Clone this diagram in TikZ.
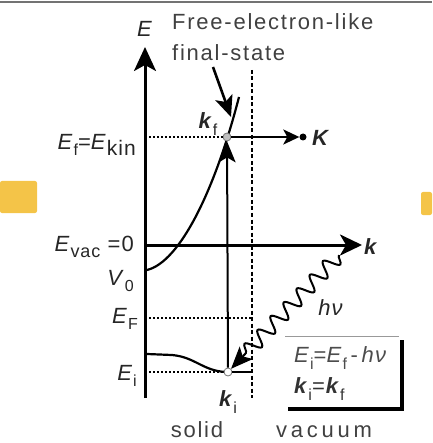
\documentclass[tikz,border=0pt]{standalone}
\usepackage{fontspec}
\setmainfont{Liberation Sans}
\newfontfamily\spaced{Liberation Sans}[LetterSpace=8]
\newfontfamily\widespaced{Liberation Sans}[LetterSpace=17]
\newfontfamily\lblfont{Liberation Sans}[LetterSpace=5]
\usetikzlibrary{arrows.meta,decorations.pathmorphing,positioning}
\newcommand\lo[2][16]{\raisebox{-0.3em}{\fontsize{#1}{#1}\selectfont\upshape\mdseries #2}}
\newcommand\bk{\textbf{\textit{k}}}

\begin{document}
\begin{tikzpicture}[x=1pt,y=-1pt,
    axis/.style={line width=3pt,-{Stealth[length=24pt,width=22pt,inset=6pt]}},
    curve/.style={line width=2.2pt},
    dotline/.style={line width=1.8pt,dash pattern=on 1.8pt off 2.2pt},
    pt/.style={circle,draw=black!55,line width=0.8pt,inner sep=0pt,minimum size=8pt},
    lbl/.style={font=\fontsize{22}{26}\selectfont\lblfont,text=black!85,inner sep=0pt},
    wordlbl/.style={font=\fontsize{22}{26}\selectfont\spaced,text=black!75,inner sep=0pt},
    blob/.style={fill={rgb,255:red,244;green,196;blue,72},rounded corners=2pt}]
  \useasboundingbox (0,0) rectangle (432,443);
  \fill[blob] (0,181) rectangle (37,213);
  \fill[blob] (421,192) rectangle (432,215);
  \draw[black!55,line width=1.5pt] (0,2) -- (432,2);

  \coordinate (O) at (145,245);
  \coordinate (Etop) at (145,47);
  \coordinate (Ebot) at (145,398);
  \coordinate (ktip) at (362,245);
  \coordinate (vtop) at (252,70);
  \coordinate (vbot) at (252,398);
  \coordinate (V0) at (147,270);
  \coordinate (ptop) at (239,97);
  \coordinate (band0) at (147,354);
  \coordinate (Efl) at (149,137);
  \coordinate (EFl) at (149,318);
  \coordinate (EFr) at (252,318);
  \coordinate (Eil) at (149,372);
  \coordinate (Eir) at (252,372);
  \coordinate (fe) at (213,67);
  \coordinate (fetip) at (231,117);
  \coordinate (ph) at (339,255);

  \draw[axis] (Ebot) -- (Etop);
  \draw[line width=3pt,-{Stealth[length=22pt,width=21pt,inset=6pt]}] (O) -- (ktip);
  \draw[line width=1.8pt,dash pattern=on 4pt off 2.5pt] (vtop) -- (vbot);
  \draw[curve] (V0) .. controls (180,262) and (215,190) .. (ptop);
  \draw[curve] (band0) -- (172,355) .. controls (195,357) and (203,371) .. (226,372);

  \node[pt,fill=black!25] (kf) at (227,137) {};
  \node[pt,fill=white] (ki) at (228,372) {};
  \node[circle,fill=black,inner sep=0pt,minimum size=7pt] (Kdot) at (303,137) {};

  \draw[dotline] (Efl) -- (kf);
  \draw[dotline] (EFl) -- (EFr);
  \draw[dotline] (Eil) -- (ki);
  \draw[line width=1.5pt] (ki) -- (Eir);
  \draw[line width=2pt,-{Stealth[length=21pt,width=17pt,inset=5pt]}] (ki) -- (kf);
  \draw[line width=2pt,-{Stealth[length=16pt,width=15pt,inset=4pt]}] (kf) -- (Kdot);
  \draw[line width=2.6pt,-{Stealth[length=21pt,width=18pt,inset=5pt]}] (fe) -- (fetip);
  \draw[line width=2pt,-{Stealth[length=22pt,width=18pt,inset=5pt]},decorate,
    decoration={snake,amplitude=7.5pt,segment length=19pt,post length=20pt}] (ph) -- (ki);

  \node[lbl] (Elbl) at (145,29) {\textit{E}};
  \node[lbl,right] (klbl) at (364,247) {\bk};
  \node[lbl,right] (Klbl) at (312,138) {\textbf{\textit{K}}};
  \node[lbl] (kflbl) at (208,124) {\bk\lo{f}};
  \node[lbl] (kilbl) at (228,402) {\bk\lo{i}};
  \node[lbl,anchor=east] (Eflbl) at (136,145) {\textit{E}\lo{f}=\textit{E}\lo[21]{kin}};
  \node[lbl,anchor=east] (Evlbl) at (134,247) {\textit{E}\lo[18]{vac} =0};
  \node[lbl,anchor=east] (V0lbl) at (134,281) {\textit{V}\lo{0}};
  \node[lbl,anchor=east] (EFlbl) at (138,319) {\textit{E}\lo{F}};
  \node[lbl,anchor=east] (Eilbl) at (137,376) {\textit{E}\lo{i}};
  \node[lbl] (hnu) at (331,308) {\textit{hν}};
  \node[wordlbl,anchor=base west] (fe1) at (172,30) {Free-electron-like};
  \node[wordlbl,anchor=base west] (fe2) at (172,61) {final-state};
  \node[wordlbl,anchor=base] (solid) at (197,437) {solid};
  \node[wordlbl,font=\fontsize{22}{26}\selectfont\widespaced,anchor=base] (vac) at (324,437) {vacuum};

  \node[lbl,text=black!70,anchor=west] (eq1) at (294,358) {\textit{E}\lo{i}=\textit{E}\lo{f}\,-\,\textit{hν}};
  \node[lbl,text=black!80,anchor=west] (eq2) at (294,389) {\bk\lo{i}=\bk\lo{f}};
  \coordinate (bx1) at (285,336);
  \coordinate (bx2) at (399,336);
  \coordinate (bx3) at (402,340);
  \coordinate (bx4) at (402,409);
  \coordinate (bx5) at (288,409);
  \draw[black!40,line width=1pt] (bx1) -- (bx2);
  \draw[line width=4pt] (bx3) -- (bx4) -- (bx5);
\end{tikzpicture}
\end{document}
